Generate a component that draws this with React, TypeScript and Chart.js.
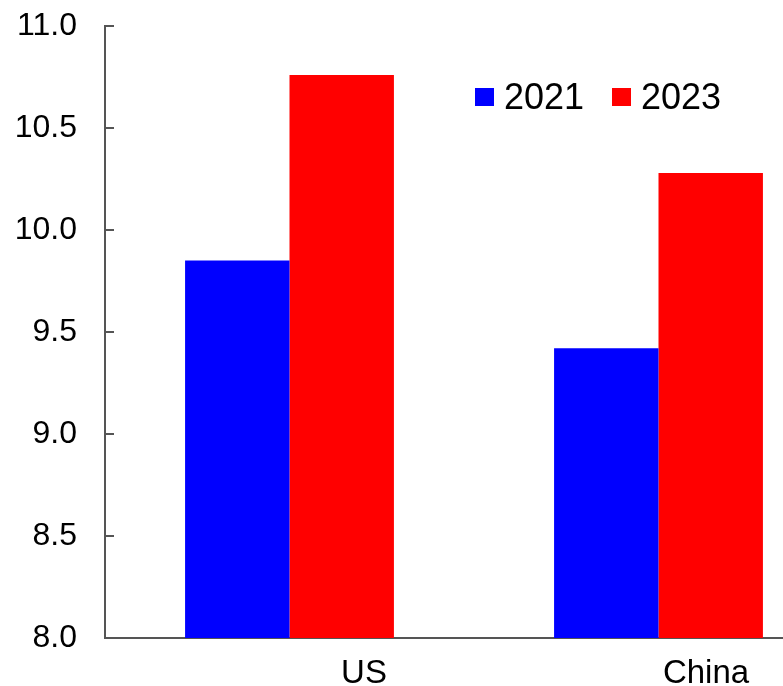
import React, { useEffect, useRef } from "react";
import { Chart, registerables } from "chart.js";

Chart.register(...registerables);

// Data
const categories = ["US", "China"];
const seriesNames = ["2021", "2023"];
const values2021 = [9.85, 9.42];
const values2023 = [10.76, 10.28];
const yMin = 8.0;
const yMax = 11.0;
const yStep = 0.5;

// Styles
const BLUE = "#0000FF";
const RED = "#FF0000";
const AXIS = "#555555";
const TEXT = "#000000";
const FONT = "'Liberation Sans', Arial, sans-serif";
const categoryLabelShift = [74.5, 47.5];

// Small tick marks drawn on the inside of the value axis
const innerTicks = {
  id: "innerTicks",
  afterDatasetsDraw(chart: any) {
    const { ctx, scales } = chart;
    const y = scales.y;
    const left = chart.chartArea.left;
    ctx.save();
    ctx.strokeStyle = AXIS;
    ctx.lineWidth = 2;
    y.ticks.forEach((t: any) => {
      const py = Math.round(y.getPixelForValue(t.value));
      ctx.beginPath();
      ctx.moveTo(left, py);
      ctx.lineTo(left + 9, py);
      ctx.stroke();
    });
    ctx.restore();
  },
};

// Category labels under the bars
const categoryLabels = {
  id: "categoryLabels",
  afterDraw(chart: any) {
    const { ctx, scales, chartArea } = chart;
    const x = scales.x;
    ctx.save();
    ctx.fillStyle = TEXT;
    ctx.font = `33px ${FONT}`;
    ctx.textAlign = "center";
    ctx.textBaseline = "alphabetic";
    categories.forEach((c, i) => {
      ctx.fillText(c, x.getPixelForValue(i) + categoryLabelShift[i], chartArea.bottom + 45);
    });
    ctx.restore();
  },
};

// Legend placed inside the plot area
const insideLegend = {
  id: "insideLegend",
  afterDraw(chart: any) {
    const { ctx, chartArea } = chart;
    const top = chartArea.top + 62;
    const starts = [chartArea.left + 370, chartArea.left + 507];
    const colors = [BLUE, RED];
    ctx.save();
    ctx.font = `36px ${FONT}`;
    ctx.textBaseline = "alphabetic";
    ctx.textAlign = "left";
    seriesNames.forEach((name, i) => {
      ctx.fillStyle = colors[i];
      ctx.fillRect(starts[i], top, 19, 18);
      ctx.fillStyle = TEXT;
      ctx.fillText(name, starts[i] + 29, top + 21);
    });
    ctx.restore();
  },
};

function BarChart() {
  const ref = useRef<HTMLCanvasElement | null>(null);

  useEffect(() => {
    if (!ref.current) return;
    const chart = new Chart(ref.current, {
      type: "bar",
      data: {
        labels: categories,
        datasets: [
          {
            label: seriesNames[0],
            data: values2021,
            backgroundColor: BLUE,
            borderWidth: 0,
          },
          {
            label: seriesNames[1],
            data: values2023,
            backgroundColor: RED,
            borderWidth: 0,
          },
        ],
      },
      options: {
        responsive: false,
        animation: false,
        layout: { padding: { top: 26, right: 17, left: 0, bottom: 0 } },
        plugins: {
          legend: { display: false },
          tooltip: { enabled: false },
        },
        datasets: {
          bar: { categoryPercentage: 0.566, barPercentage: 1.0 },
        },
        scales: {
          x: {
            grid: { display: false, drawTicks: false },
            border: { display: true, color: AXIS, width: 2 },
            ticks: { display: false },
            afterFit: (s: any) => {
              s.height = 48;
              s.paddingLeft = 0;
              s.paddingRight = 0;
            },
          },
          y: {
            min: yMin,
            max: yMax,
            grid: { display: false, drawTicks: false },
            border: { display: true, color: AXIS, width: 2 },
            ticks: {
              stepSize: yStep,
              padding: 28,
              color: TEXT,
              font: { family: FONT, size: 32 },
              callback: (v: any) => Number(v).toFixed(1),
            },
            afterFit: (s: any) => {
              s.width = 105;
              s.paddingTop = 0;
              s.paddingBottom = 0;
            },
          },
        },
      },
      plugins: [innerTicks, categoryLabels, insideLegend],
    });
    return () => chart.destroy();
  }, []);

  return (
    <div
      style={{
        position: "absolute",
        left: 0,
        top: 0,
        width: 783,
        height: 686,
        overflow: "hidden",
        background: "#fff",
      }}
    >
      <canvas ref={ref} width={860} height={686} style={{ width: 860, height: 686, display: "block" }} />
    </div>
  );
}

export default function App() {
  return <BarChart />;
}
